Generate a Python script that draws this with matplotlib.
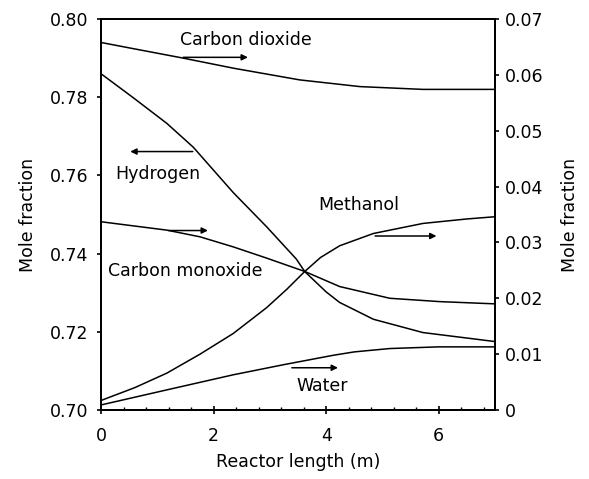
import matplotlib
matplotlib.use("Agg")
import matplotlib.pyplot as plt
from matplotlib.ticker import MultipleLocator, FixedLocator

plt.rcParams["font.family"] = ["DejaVu Sans"]
plt.rcParams["font.size"] = 12.5

# Hydrogen (left axis)
h2_x = [0, 0.57, 1.17, 1.64, 2.35, 2.94, 3.47, 3.62, 4.0, 4.24, 4.84, 5.72, 6.5, 7.0]
h2_y = [0.786, 0.7799, 0.7733, 0.7672, 0.7556, 0.7469, 0.7386, 0.7354, 0.7302,
        0.7275, 0.7232, 0.7198, 0.7184, 0.7175]

# Right axis species
co2_x = [0, 0.57, 1.46, 2.35, 3.53, 4.6, 5.72, 7.0]
co2_y = [0.0658, 0.0647, 0.0630, 0.0612, 0.0591, 0.0579, 0.0574, 0.0574]

co_x = [0, 1.17, 1.76, 2.35, 2.94, 3.62, 4.24, 5.13, 6.02, 7.0]
co_y = [0.0337, 0.0322, 0.0310, 0.0292, 0.0272, 0.0248, 0.0221, 0.0200, 0.0194, 0.0190]

meoh_x = [0, 0.6, 1.17, 1.76, 2.35, 2.94, 3.3, 3.62, 3.9, 4.24, 4.84, 5.72, 6.5, 7.0]
meoh_y = [0.0017, 0.0040, 0.0066, 0.0100, 0.0137, 0.0183, 0.0216, 0.0248, 0.0273,
          0.0294, 0.0316, 0.0334, 0.0342, 0.0346]

h2o_x = [0, 1.17, 2.35, 3.24, 4.13, 4.5, 5.13, 6.0, 7.0]
h2o_y = [0.0009, 0.0036, 0.0063, 0.0081, 0.0098, 0.0104, 0.0110, 0.0113, 0.0113]

left_ticks = [0.70, 0.72, 0.74, 0.76, 0.78, 0.80]
right_ticks = [0, 0.01, 0.02, 0.03, 0.04, 0.05, 0.06, 0.07]
right_labels = ["0", "0.01", "0.02", "0.03", "0.04", "0.05", "0.06", "0.07"]
x_ticks = [0, 2, 4, 6]

fig = plt.figure(figsize=(5.89, 4.79), dpi=100)
ax1 = fig.add_axes([0.1715, 0.1441, 0.6689, 0.8162])
ax2 = ax1.twinx()

lw = 1.1
ax1.plot(h2_x, h2_y, color="black", linewidth=lw)
ax2.plot(co2_x, co2_y, color="black", linewidth=lw)
ax2.plot(co_x, co_y, color="black", linewidth=lw)
ax2.plot(meoh_x, meoh_y, color="black", linewidth=lw)
ax2.plot(h2o_x, h2o_y, color="black", linewidth=lw)

ax1.set_xlim(0, 7)
ax1.set_ylim(0.70, 0.80)
ax2.set_ylim(0, 0.07)

ax1.set_yticks(left_ticks)
ax1.set_yticklabels([f"{v:.2f}" for v in left_ticks])
ax2.yaxis.set_major_locator(FixedLocator(right_ticks))
ax2.set_yticklabels(right_labels)
ax1.set_xticks(x_ticks)
ax1.xaxis.set_minor_locator(MultipleLocator(0.4))

ax1.tick_params(axis="y", direction="out", length=3, width=1.2, pad=6, colors="black")
ax2.tick_params(axis="y", direction="out", length=3, width=1.2, pad=4, colors="black")
ax1.tick_params(axis="x", which="major", direction="inout", length=6, width=1.2, pad=9)
ax1.tick_params(axis="x", which="minor", direction="in", length=2.5, width=1.0)

for ax in (ax1, ax2):
    for spine in ax.spines.values():
        spine.set_linewidth(1.4)
        spine.set_color("black")

ax1.set_xlabel("Reactor length (m)", labelpad=6)
ax1.set_ylabel("Mole fraction", labelpad=9)
ax2.set_ylabel("Mole fraction", labelpad=13)

# labels and arrows (left-axis data coordinates)
arrow = dict(arrowstyle="-|>", color="black", linewidth=1.1,
             mutation_scale=9, shrinkA=0, shrinkB=0)
ax1.text(1.4, 0.7946, "Carbon dioxide", va="center", ha="left")
ax1.annotate("", xy=(2.61, 0.7902), xytext=(1.46, 0.7902), arrowprops=arrow)

ax1.text(0.25, 0.7604, "Hydrogen", va="center", ha="left")
ax1.annotate("", xy=(0.52, 0.7661), xytext=(1.63, 0.7661), arrowprops=arrow)

ax1.annotate("", xy=(1.9, 0.7459), xytext=(1.2, 0.7459), arrowprops=arrow)
ax1.text(0.12, 0.7356, "Carbon monoxide", va="center", ha="left")

ax1.text(3.86, 0.7524, "Methanol", va="center", ha="left")
ax1.annotate("", xy=(5.96, 0.7445), xytext=(4.87, 0.7445), arrowprops=arrow)

ax1.annotate("", xy=(4.21, 0.7108), xytext=(3.39, 0.7108), arrowprops=arrow)
ax1.text(3.47, 0.7061, "Water", va="center", ha="left")

plt.savefig("out.png", dpi=100)
plt.close()
